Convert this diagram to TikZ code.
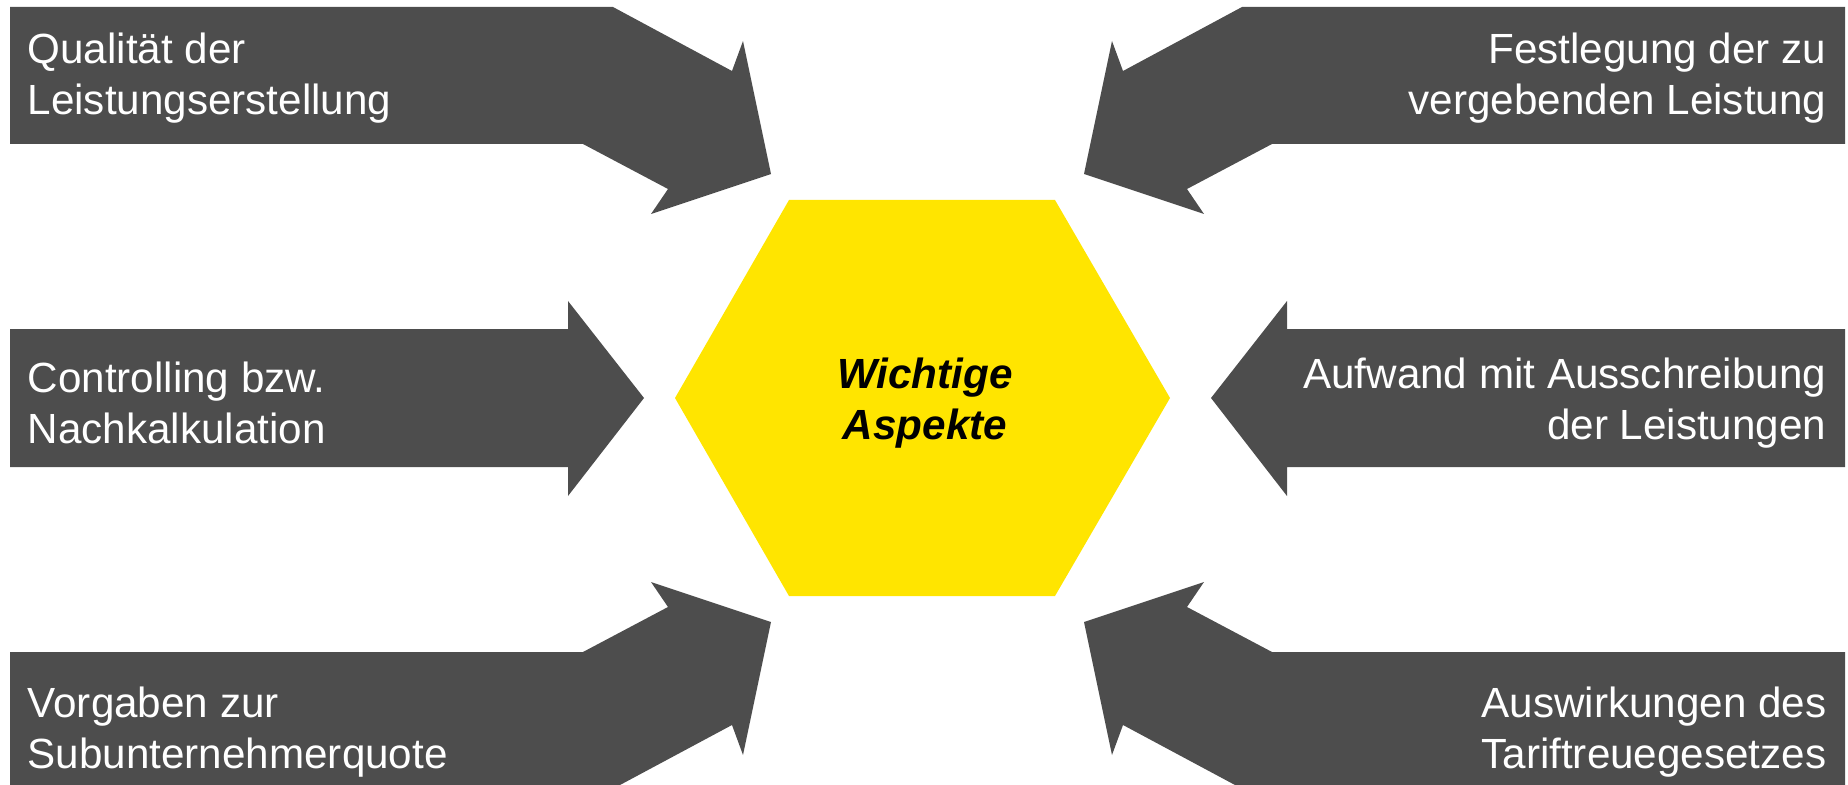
\documentclass[tikz,border=0pt]{standalone}
\usepackage{fontspec}
\setmainfont{Liberation Sans}
\definecolor{arrowgrey}{RGB}{77,77,77}
\definecolor{hexyellow}{RGB}{255,229,0}

\begin{document}
\begin{tikzpicture}[x=0.01cm,y=-0.01cm]
\tikzset{every node/.style={inner sep=0pt,font=\fontsize{12}{14.6}\selectfont},
  arw/.style={fill=arrowgrey},
  ltxt/.style={text=white,align=left,anchor=west},
  rtxt/.style={text=white,align=right,anchor=east}}
\useasboundingbox (0,0) rectangle (1848,785);

\fill[arw] (10,7) -- (613,7) -- (732,71) -- (743,41) -- (771,174) -- (651,214)
  -- (668,189) -- (583,144) -- (10,144) -- cycle;
\fill[arw] (10,329) -- (568,329) -- (568,301) -- (644,398) -- (568,496)
  -- (568,467) -- (10,467) -- cycle;
\fill[arw] (10,785) -- (10,652) -- (583,652) -- (668,607) -- (651,582) -- (771,622)
  -- (743,755) -- (732,725) -- (620,785) -- cycle;

\fill[arw] (1845,7) -- (1242,7) -- (1123,71) -- (1112,41) -- (1084,174) -- (1204,214)
  -- (1187,189) -- (1272,144) -- (1845,144) -- cycle;
\fill[arw] (1845,329) -- (1287,329) -- (1287,301) -- (1211,398) -- (1287,496)
  -- (1287,467) -- (1845,467) -- cycle;
\fill[arw] (1845,785) -- (1845,652) -- (1272,652) -- (1187,607) -- (1204,582) -- (1084,622)
  -- (1112,755) -- (1123,725) -- (1235,785) -- cycle;

\fill[hexyellow] (789,200) -- (1055,200) -- (1170,398) -- (1055,596) -- (789,596)
  -- (675,398) -- cycle;

\node[ltxt] (qual) at (27,78) {Qualität der\\Leistungserstellung};
\node[ltxt] (contr) at (27,403) {Controlling bzw.\\Nachkalkulation};
\node[ltxt] (vorg) at (27,732) {Vorgaben zur\\Subunternehmerquote};
\node[rtxt] (festl) at (1827,78) {Festlegung der zu\\vergebenden Leistung};
\node[rtxt] (aufw) at (1827,403) {Aufwand mit Ausschreibung\\der Leistungen};
\node[rtxt] (ausw) at (1827,732) {Auswirkungen des\\Tariftreuegesetzes};
\node[align=center,font=\fontsize{12}{14.6}\selectfont\bfseries\itshape] (wicht) at (925,403) {Wichtige\\Aspekte};

\end{tikzpicture}
\end{document}
